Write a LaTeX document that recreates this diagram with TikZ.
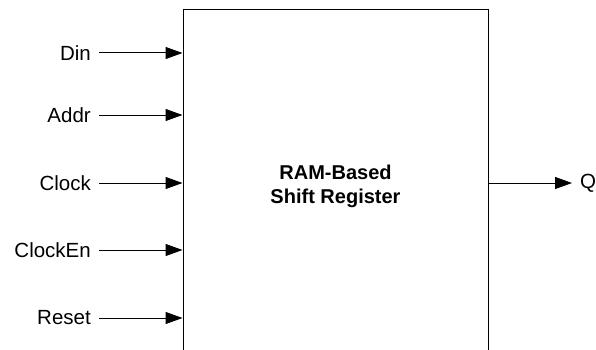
\documentclass[tikz,border=0pt]{standalone}
\usepackage{fontspec}
\setmainfont{Liberation Sans}
\usetikzlibrary{arrows.meta}

\begin{document}
\begin{tikzpicture}[
  x=1pt,
  y=-1pt,
  block/.style={
    draw,
    line width=1pt,
    minimum width=305pt,
    minimum height=352pt,
    inner sep=0pt,
    align=center,
    font=\fontsize{20}{24}\selectfont\bfseries
  },
  port/.style={
    inner xsep=8pt,
    inner ysep=0pt,
    font=\fontsize{20.5}{24}\selectfont
  },
  signal/.style={
    -{Triangle[length=17pt,width=12pt]},
    line width=1pt
  }
]

\path[use as bounding box] (0,0) rectangle (596,350);

\node[block] (ram) at (335.5,186) {RAM-Based\\Shift Register};

\node[port, anchor=east] (din)  at (99,53)  {Din};
\node[port, anchor=east] (addr) at (99,115) {Addr};
\node[port, anchor=east] (clk)  at (99,183) {Clock};
\node[port, anchor=east] (ce)   at (99,250) {ClockEn};
\node[port, anchor=east] (rst)  at (99,318) {Reset};
\node[port, anchor=west] (q)    at (572,183) {Q};

\draw[signal] (din)  -- (din -| ram.west);
\draw[signal] (addr) -- (addr -| ram.west);
\draw[signal] (clk)  -- (clk -| ram.west);
\draw[signal] (ce)   -- (ce -| ram.west);
\draw[signal] (rst)  -- (rst -| ram.west);
\draw[signal] (q -| ram.east) -- (q);

\end{tikzpicture}
\end{document}
